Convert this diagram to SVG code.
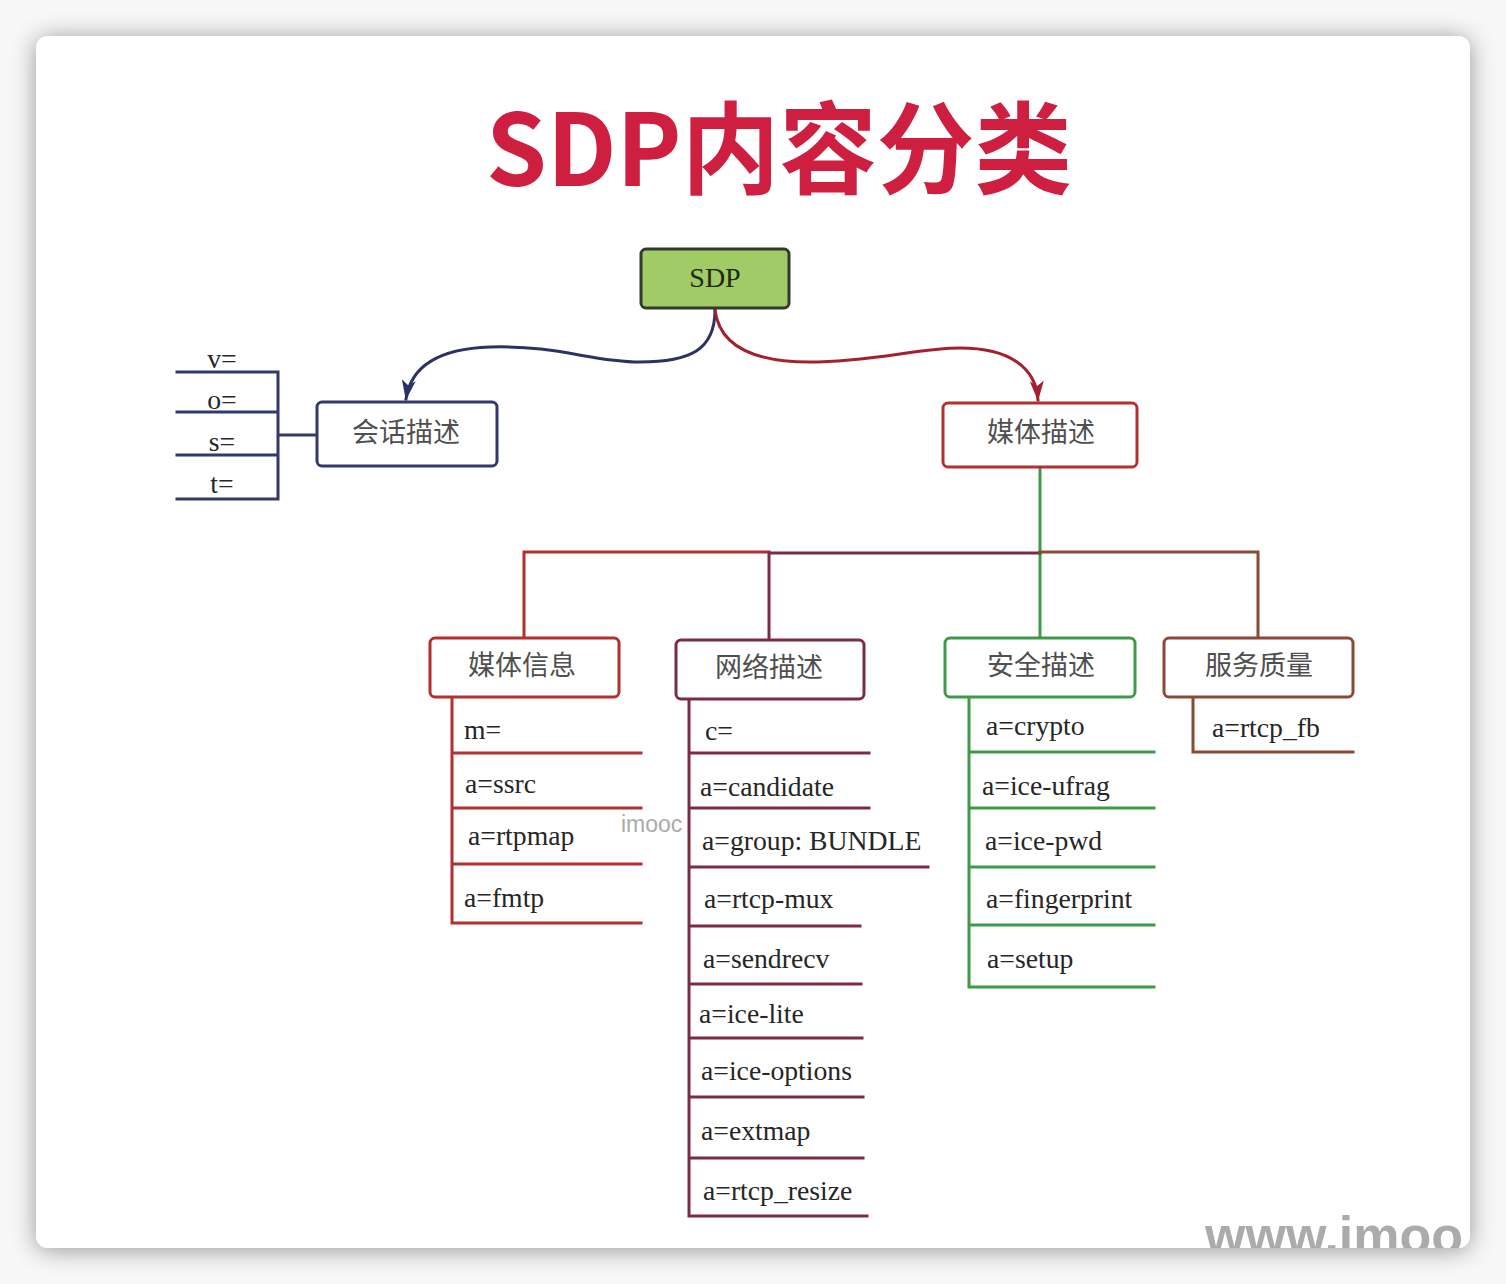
<svg xmlns="http://www.w3.org/2000/svg" width="1506" height="1284" viewBox="0 0 1506 1284">
<defs>
<style>
.box{fill:#fff;stroke-width:3}
.cn{font-family:"Noto Sans CJK SC","Noto Sans",sans-serif;font-size:27px;fill:#4f4f4f;text-anchor:middle}
.lb{font-family:"Liberation Serif","Times New Roman",serif;font-size:27.7px;fill:#262626}
.ln{fill:none;stroke-width:3;stroke-linecap:square}
.red{stroke:#b2302f}
.mar{stroke:#7b2a47}
.grn{stroke:#3e9a48}
.brn{stroke:#8a4a35}
.nav{stroke:#35386b}
</style>
<filter id="sh" x="-5%" y="-5%" width="110%" height="110%">
<feGaussianBlur in="SourceAlpha" stdDeviation="12"/>
<feOffset dy="2"/>
<feComponentTransfer><feFuncA type="linear" slope="0.4"/></feComponentTransfer>
<feMerge><feMergeNode/><feMergeNode in="SourceGraphic"/></feMerge>
</filter>
<clipPath id="cardClip"><rect x="36" y="36" width="1434" height="1212" rx="12"/></clipPath>
<marker id="arrB" viewBox="0 0 20 14" refX="19" refY="7" markerWidth="20" markerHeight="14" orient="auto" markerUnits="userSpaceOnUse">
<path d="M0,0 L20,7 L0,14 L5,7 Z" fill="#2d3264"/>
</marker>
<marker id="arrR" viewBox="0 0 20 14" refX="19" refY="7" markerWidth="20" markerHeight="14" orient="auto" markerUnits="userSpaceOnUse">
<path d="M0,0 L20,7 L0,14 L5,7 Z" fill="#a3202e"/>
</marker>
</defs>

<rect x="0" y="0" width="1506" height="1284" fill="#f7f7f7"/>
<rect x="36" y="36" width="1434" height="1212" rx="12" fill="#ffffff" filter="url(#sh)"/>

<text x="486" y="186" textLength="586" lengthAdjust="spacingAndGlyphs" font-family="'Noto Sans CJK SC','Noto Sans',sans-serif" font-size="100" font-weight="bold" fill="#cf1f40">SDP内容分类</text>

<g id="connectors">
<path class="ln" d="M715,310 C715,350 690,362 640,362 C590,362 560,345 490,347 C430,349 410,372 406,399" stroke="#2d3264" marker-end="url(#arrB)"/>
<path class="ln" d="M715,310 C720,350 760,362 810,362 C870,362 920,348 960,348 C1010,348 1036,368 1038,400" stroke="#a3202e" marker-end="url(#arrR)"/>
<path class="ln nav" d="M177,372 H278 V499 H177 M177,412 H278 M177,455 H278 M278,435 H317"/>
<path class="ln grn" d="M1040,467 V638"/>
<path class="ln red" d="M524,638 V552 H769"/>
<path class="ln mar" d="M769,640 V553 H1040"/>
<path class="ln brn" d="M1040,552 H1258 V638"/>
<path class="ln red" d="M452,698 V923 H641 M452,753 H641 M452,808 H641 M452,864 H641"/>
<path class="ln mar" d="M689,700 V1216 H867 M689,753 H869 M689,808 H869 M689,867 H928 M689,926 H860 M689,984 H861 M689,1038 H862 M689,1097 H863 M689,1158 H863"/>
<path class="ln grn" d="M969,698 V987 H1154 M969,752 H1154 M969,808 H1154 M969,867 H1154 M969,925 H1154"/>
<path class="ln brn" d="M1193,698 V752 H1353"/>
</g>

<g id="sdp">
<rect x="641" y="249" width="148" height="59" rx="5" fill="#a0cb66" stroke="#333a2c" stroke-width="3"/>
<text x="715" y="287" font-family="'Liberation Serif',serif" font-size="28" fill="#1f2a14" text-anchor="middle">SDP</text>
</g>

<g id="session">
<rect class="box nav" x="317" y="402" width="180" height="64" rx="5"/>
<text class="cn" x="406" y="442">会话描述</text>
<text class="lb" x="222" y="368" text-anchor="middle">v=</text>
<text class="lb" x="222" y="409" text-anchor="middle">o=</text>
<text class="lb" x="222" y="451" text-anchor="middle">s=</text>
<text class="lb" x="222" y="493" text-anchor="middle">t=</text>
</g>

<g id="media">
<rect class="box red" x="943" y="403" width="194" height="64" rx="5"/>
<text class="cn" x="1041" y="442">媒体描述</text>
</g>

<g id="mediainfo">
<rect class="box red" x="430" y="638" width="189" height="59" rx="5"/>
<text class="cn" x="522" y="675">媒体信息</text>
<text class="lb" x="464" y="739">m=</text>
<text class="lb" x="465" y="793">a=ssrc</text>
<text class="lb" x="468" y="845">a=rtpmap</text>
<text class="lb" x="464" y="907">a=fmtp</text>
</g>

<g id="network">
<rect class="box mar" x="676" y="640" width="188" height="59" rx="5"/>
<text class="cn" x="769" y="677">网络描述</text>
<text class="lb" x="705" y="740">c=</text>
<text class="lb" x="700" y="796">a=candidate</text>
<text class="lb" x="702" y="850">a=group: BUNDLE</text>
<text class="lb" x="704" y="908">a=rtcp-mux</text>
<text class="lb" x="703" y="968">a=sendrecv</text>
<text class="lb" x="699" y="1023">a=ice-lite</text>
<text class="lb" x="701" y="1080">a=ice-options</text>
<text class="lb" x="701" y="1140">a=extmap</text>
<text class="lb" x="703" y="1200">a=rtcp_resize</text>
</g>

<g id="security">
<rect class="box grn" x="945" y="638" width="190" height="59" rx="5"/>
<text class="cn" x="1041" y="675">安全描述</text>
<text class="lb" x="986" y="735">a=crypto</text>
<text class="lb" x="982" y="795">a=ice-ufrag</text>
<text class="lb" x="985" y="850">a=ice-pwd</text>
<text class="lb" x="986" y="908">a=fingerprint</text>
<text class="lb" x="987" y="968">a=setup</text>
</g>

<g id="qos">
<rect class="box brn" x="1164" y="638" width="189" height="59" rx="5"/>
<text class="cn" x="1259" y="675">服务质量</text>
<text class="lb" x="1212" y="737">a=rtcp_fb</text>
</g>

<text x="621" y="832" font-family="'Liberation Sans',Arial,sans-serif" font-size="23" fill="#ababab">imooc</text>
<g clip-path="url(#cardClip)">
<text x="1205" y="1253" font-family="'Liberation Sans',Arial,sans-serif" font-size="52" font-weight="bold" fill="#ababab">www.imoo</text>
</g>
</svg>
